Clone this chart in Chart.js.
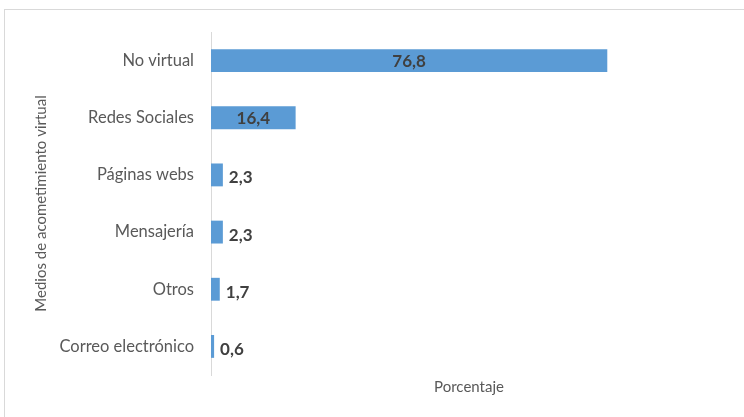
<!DOCTYPE html>
<html lang="es">

<head>
    <meta charset="UTF-8">
    <meta name="viewport" content="width=device-width, initial-scale=1.0">
    <title>Medios de acometimiento virtual</title>

    <!-- CHART JS -->
    <script src="https://cdn.jsdelivr.net/npm/chart.js"></script>

    <style>
        html, body { margin: 0; padding: 0; background: #ffffff; }
        #wrap { position: relative; width: 744px; height: 417px; overflow: hidden; }
        /* marco gris del gráfico */
        #marco {
            position: absolute; left: 4px; top: 9px; width: 760px; height: 430px;
            border-top: 1px solid #d9d9d9; border-left: 1px solid #d9d9d9;
        }
        canvas { position: absolute; left: 0; top: 0; }
    </style>
</head>

<body>

    <div id="wrap">
        <div id="marco"></div>
        <canvas id="myChart" width="744" height="417"></canvas>
    </div>

    <script>
        // datos del gráfico
        const medios = ['No virtual', 'Redes Sociales', 'Páginas webs', 'Mensajería', 'Otros', 'Correo electrónico'];
        const porcentajes = [76.8, 16.4, 2.3, 2.3, 1.7, 0.6];
        const tituloY = 'Medios de acometimiento virtual';
        const tituloX = 'Porcentaje';

        const fuente = 'Lato, "Open Sans", sans-serif';

        // etiquetas con el valor: dentro de la barra si cabe, si no a la derecha
        const etiquetasValor = {
            id: 'etiquetasValor',
            afterDatasetsDraw(chart) {
                const ctx = chart.ctx;
                const meta = chart.getDatasetMeta(0);
                ctx.save();
                ctx.font = 'bold 17px ' + fuente;
                ctx.fillStyle = '#404040';
                ctx.textBaseline = 'middle';
                meta.data.forEach((bar, i) => {
                    const texto = porcentajes[i].toFixed(1).replace('.', ',');
                    const ancho = ctx.measureText(texto).width;
                    const largo = bar.x - bar.base;
                    if (largo > ancho + 12) {
                        ctx.textAlign = 'center';
                        ctx.fillText(texto, bar.base + largo / 2, bar.y + 1);
                    } else {
                        ctx.textAlign = 'left';
                        ctx.fillText(texto, bar.x + 6, bar.y + 3);
                    }
                });
                ctx.restore();
            }
        };

        const ctx = document.getElementById('myChart');

        new Chart(ctx, {
            type: 'bar',
            data: {
                labels: medios,
                datasets: [{
                    data: porcentajes,
                    backgroundColor: '#5b9bd5',
                    borderWidth: 0,
                    categoryPercentage: 1,
                    barPercentage: 0.4
                }]
            },
            options: {
                indexAxis: 'y',
                responsive: false,
                animation: false,
                layout: { padding: { top: 32, right: 17, bottom: 21, left: 0 } },
                plugins: {
                    legend: { display: false },
                    tooltip: { enabled: false }
                },
                scales: {
                    x: {
                        min: 0,
                        max: 100,
                        afterFit(scale) { scale.height = 21; },
                        ticks: { display: false },
                        grid: { display: false },
                        border: { display: false },
                        title: {
                            display: true,
                            text: tituloX,
                            color: '#595959',
                            font: { family: fuente, size: 15 },
                            padding: { top: 0, bottom: 0 }
                        }
                    },
                    y: {
                        afterFit(scale) { scale.width = 211; },
                        ticks: {
                            color: '#595959',
                            font: { family: fuente, size: 16.5 },
                            padding: 17
                        },
                        grid: { display: false, drawTicks: false },
                        border: { display: true, color: '#d9d9d9', width: 1 },
                        title: {
                            display: true,
                            text: tituloY,
                            color: '#595959',
                            font: { family: fuente, size: 15 },
                            padding: { top: 32, bottom: 0 }
                        }
                    }
                }
            },
            plugins: [etiquetasValor]
        });
    </script>

</body>

</html>
